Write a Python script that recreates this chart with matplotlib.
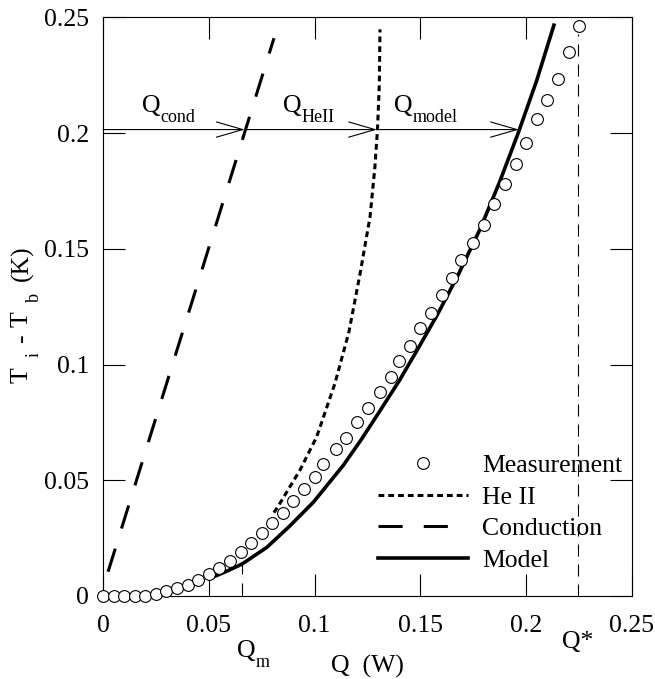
import matplotlib
matplotlib.use('Agg')
import matplotlib.pyplot as plt
from matplotlib.ticker import FixedLocator, FixedFormatter
from matplotlib.transforms import IdentityTransform

plt.rcParams['font.family'] = ['Liberation Serif', 'DejaVu Serif']
FS = 18.5
SUB = 13

# ---------------- data ----------------
meas_q = [0, 0.005, 0.010, 0.015, 0.020, 0.025, 0.030, 0.035, 0.040, 0.045,
          0.050, 0.055, 0.060, 0.065, 0.070, 0.075, 0.080, 0.085, 0.090, 0.095,
          0.100, 0.104, 0.110, 0.115, 0.120, 0.125, 0.131, 0.136, 0.140, 0.145,
          0.150, 0.155, 0.160, 0.165, 0.169, 0.175, 0.180, 0.185, 0.190, 0.195,
          0.200, 0.205, 0.210, 0.215, 0.220, 0.225]
meas_dt = [0, 0, 0, 0, 0, 0.0009, 0.0023, 0.0035, 0.0047, 0.0068,
           0.0093, 0.0123, 0.0153, 0.019, 0.0228, 0.0271, 0.0314, 0.0357, 0.0412, 0.0461,
           0.0513, 0.057, 0.0636, 0.0682, 0.0751, 0.0812, 0.0881, 0.0947, 0.1016, 0.1079,
           0.1156, 0.1222, 0.1300, 0.1374, 0.1451, 0.1527, 0.1602, 0.1694, 0.1780, 0.1868,
           0.1957, 0.2061, 0.2142, 0.2235, 0.2350, 0.2462]

model_q = [0.052, 0.058, 0.0657, 0.0774, 0.088, 0.0994, 0.1136, 0.122, 0.1309,
           0.140, 0.1482, 0.158, 0.168, 0.1782, 0.1875, 0.1963, 0.205, 0.2131]
model_dt = [0.0082, 0.0105, 0.0138, 0.0210, 0.0300, 0.0405, 0.0565, 0.0675, 0.0800,
            0.0930, 0.1058, 0.1215, 0.1390, 0.1585, 0.1790, 0.2002, 0.2228, 0.2466]

heii_q = [0.0808, 0.0836, 0.0931, 0.1010, 0.1096, 0.1162, 0.1215, 0.1262,
          0.1285, 0.1297, 0.1306, 0.1309]
heii_dt = [0.0360, 0.0400, 0.0544, 0.0688, 0.0918, 0.1140, 0.1393, 0.1638,
           0.1854, 0.2012, 0.2214, 0.2448]

cond_q = [0.0024, 0.0808]
cond_dt = [0.0105, 0.2410]

q_m = 0.0657
q_m_dt = 0.0138
q_star = 0.2245
q_star_top = 0.243

arrow_level = 0.2015
arrow_tips = [0.067, 0.1295, 0.1966]
arrow_labels = ['cond', 'HeII', 'model']
arrow_label_x = [0.0184, 0.0851, 0.1375]
arrow_label_y = 0.2092

ticks = [0, 0.05, 0.1, 0.15, 0.2, 0.25]
tick_labels = ['0', '0.05', '0.1', '0.15', '0.2', '0.25']

# ---------------- figure ----------------
fig = plt.figure(figsize=(6.55, 6.79), dpi=100)
ax = fig.add_axes([103 / 655, 1 - 596 / 679, 529 / 655, 578.7 / 679])
renderer = fig.canvas.get_renderer()


def text_width(s, size):
    t = fig.text(0, 0, s, fontsize=size)
    w = t.get_window_extent(renderer).width
    t.remove()
    return w


def draw_pieces(x0, y0, pieces, vertical=False):
    """pieces: (string, size, drop_px, gap_before_px); x0, y0 in display px."""
    pos = 0.0
    for s, size, drop, gap in pieces:
        pos += gap
        if vertical:
            fig.text(x0 + drop, y0 + pos, s, fontsize=size, rotation=90,
                     rotation_mode='anchor', ha='left', va='baseline',
                     transform=IdentityTransform())
        else:
            fig.text(x0 + pos, y0 - drop, s, fontsize=size, ha='left',
                     va='baseline', transform=IdentityTransform())
        pos += text_width(s, size)


ax.plot(meas_q, meas_dt, ls='none', marker='o', ms=8.5, mfc='white', mec='black',
        mew=0.8, label='Measurement', zorder=4, clip_on=False)
ax.plot(heii_q, heii_dt, color='black', lw=2.2, ls=(0, (1.9, 1.3)), label='He II',
        dash_capstyle='butt')
ax.plot(cond_q, cond_dt, color='black', lw=2.2, ls=(0, (7.9, 6.9)), label='Conduction',
        dash_capstyle='butt')
ax.plot(model_q, model_dt, color='black', lw=2.6, label='Model', zorder=3)

ax.plot([q_m, q_m], [0, q_m_dt], color='black', lw=0.8, ls=(0, (11.7, 8.1)))
ax.plot([q_star, q_star], [0, q_star_top], color='black', lw=0.8, ls=(0, (10.8, 7.2)))

starts = [0] + arrow_tips[:-1]
for s, t in zip(starts, arrow_tips):
    ax.annotate('', xy=(t, arrow_level), xytext=(s, arrow_level),
                arrowprops=dict(arrowstyle='->,head_length=1.9,head_width=0.55',
                                lw=0.8, color='black', shrinkA=0, shrinkB=0))

ax.set_xlim(0, 0.25)
ax.set_ylim(0, 0.25)
ax.xaxis.set_major_locator(FixedLocator(ticks))
ax.yaxis.set_major_locator(FixedLocator(ticks))
ax.xaxis.set_major_formatter(FixedFormatter(tick_labels))
ax.yaxis.set_major_formatter(FixedFormatter(tick_labels))
ax.tick_params(direction='in', length=16, width=0.8, top=True, right=True,
               labelsize=FS)
ax.tick_params(axis='x', pad=14)
ax.tick_params(axis='y', pad=10)
for sp in ax.spines.values():
    sp.set_linewidth(0.8)

# annotation labels with subscripts
for lx, lab in zip(arrow_label_x, arrow_labels):
    px, py = ax.transData.transform((lx, arrow_label_y))
    draw_pieces(px, py, [('Q', FS, 0, 0), (lab, SUB, 10, 0)])

px, py = ax.transData.transform((0.0633, -0.0263))
draw_pieces(px, py, [('Q', FS, 0, 0), ('m', SUB, 10, 0)])
ax.text(0.2169, -0.0225, 'Q*', fontsize=FS, ha='left', va='baseline')

# axis labels
ax.set_xlabel('Q  (W)', fontsize=FS)
ax.xaxis.label.set_va('baseline')
ax.xaxis.set_label_coords(0.5, -0.1331)
draw_pieces(28, 679 - 383, [('T', FS, 0, 0), ('i', SUB, 11, 10), ('-', FS, 0, 10),
                            ('T', FS, 0, 7), ('b', SUB, 11, 9), ('(K)', FS, 0, 12)],
            vertical=True)

leg = ax.legend(loc='lower left', bbox_to_anchor=(0.52, 0.042), frameon=False,
                fontsize=FS, numpoints=1, handlelength=3.5, handletextpad=0.55,
                labelspacing=0.33, borderpad=0, borderaxespad=0)

fig.savefig('out.png', dpi=100)
